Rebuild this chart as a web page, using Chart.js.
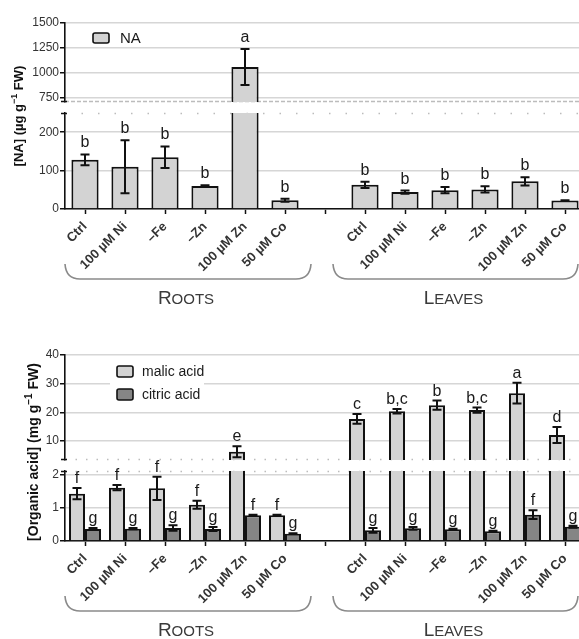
<!DOCTYPE html>
<html><head><meta charset="utf-8">
<script src="https://cdn.jsdelivr.net/npm/chart.js@4.4.1/dist/chart.umd.min.js"></script>
<style>
html,body{margin:0;padding:0;overflow:hidden;background:#fff;width:579px;height:639px;}
canvas{position:absolute;left:0;}
#c1{top:0;} #c2{top:320px;}
</style></head><body>
<canvas id="c1" width="600" height="320"></canvas>
<canvas id="c2" width="600" height="319"></canvas>
<script>
// ---------- data ----------
const treatments = ['Ctrl', '100 µM Ni', '–Fe', '–Zn', '100 µM Zn', '50 µM Co'];
const organs = ['Roots', 'Leaves'];

// Panel 1: nicotianamine (µg/g FW)
const naRoots = [128, 110, 135, 60, 1060, 23];
const naRootsErr = [14, 69, 28, 2, 180, 4];
const naLeaves = [63, 44, 49, 51, 72, 22];
const naLeavesErr = [8, 4, 8, 8, 11, 1];
const naLettersRoots = ['b', 'b', 'b', 'b', 'a', 'b'];
const naLettersLeaves = ['b', 'b', 'b', 'b', 'b', 'b'];
const naLowRange = [0, 250];
const naHighRange = [710, 1500];
const naLowTicks = [0, 100, 200];
const naHighTicks = [750, 1000, 1250, 1500];

// Panel 2: organic acids (mg/g FW)
const malicRoots = [1.42, 1.60, 1.58, 1.09, 6.3, 0.77];
const malicRootsErr = [0.17, 0.08, 0.35, 0.12, 1.9, 0.02];
const citricRoots = [0.36, 0.37, 0.39, 0.36, 0.77, 0.22];
const citricRootsErr = [0.03, 0.02, 0.08, 0.06, 0.02, 0.01];
const malicLeaves = [17.7, 20.4, 22.5, 20.8, 26.7, 12.1];
const malicLeavesErr = [1.7, 0.8, 1.6, 0.9, 3.6, 2.8];
const citricLeaves = [0.32, 0.38, 0.35, 0.29, 0.79, 0.43];
const citricLeavesErr = [0.07, 0.04, 0.02, 0.02, 0.13, 0.03];
const malicLettersRoots = ['f', 'f', 'f', 'f', 'e', 'f'];
const citricLettersRoots = ['g', 'g', 'g', 'g', 'f', 'g'];
const malicLettersLeaves = ['c', 'b,c', 'b', 'b,c', 'a', 'd'];
const citricLettersLeaves = ['g', 'g', 'g', 'g', 'f', 'g'];
const oaLowRange = [0, 2.1];
const oaHighRange = [3.4, 40];
const oaLowTicks = [0, 1, 2];
const oaHighTicks = [10, 20, 30, 40];

// ---------- helpers ----------
const FONT = "'Liberation Sans', Arial, sans-serif";
const xLabels = [...treatments, '', ...treatments];
const join = (a, b) => [...a, null, ...b];
const lowPart = (vals, max) => vals.map(v => v == null ? null : Math.min(v, max));
const highPart = (vals, min) => vals.map(v => (v != null && v > min) ? [min, v] : null);
const cutBorder = (vals, max) => (c) => {
  const v = vals[c.dataIndex];
  return (v != null && v > max) ? {top: 0, left: 2, right: 2, bottom: 0} : 2;
};
const LIGHT = '#d3d3d3', DARK = '#858585', EDGE = '#111';

function yScale(range, tickVals, weight, stackWeight, show) {
  return {
    type: 'linear', axis: 'y', position: 'left', stack: 'v', stackWeight, weight,
    min: range[0], max: range[1], stacked: false,
    border: {display: show, color: EDGE, width: 1.6},
    grid: {display: show, color: '#d6d6d6', lineWidth: 1.5, drawTicks: true, tickLength: 5, tickColor: EDGE, tickWidth: 1.5},
    ticks: {display: show, padding: 1, font: {family: FONT, size: 12}, color: '#333',
            callback: (v) => String(v)},
    afterBuildTicks(s) { s.ticks = tickVals.map(v => ({value: v})); },
    afterFit(s) { s.width = 65; }
  };
}
function xScale(h) {
  return {
    type: 'category', labels: xLabels, offset: true,
    grid: {display: true, drawOnChartArea: false, drawTicks: true, tickLength: 5, tickColor: EDGE, tickWidth: 1.5, offset: false},
    border: {display: true, color: EDGE, width: 1.6},
    ticks: {autoSkip: false, maxRotation: 45, minRotation: 45, padding: 5,
            font: {family: FONT, size: 13, weight: 'bold'}, color: '#333'},
    afterFit(s) { s.height = h; }
  };
}

function drawRotTitle(ctx, cx, cy, parts, size) {
  ctx.save();
  ctx.translate(cx, cy); ctx.rotate(-Math.PI / 2);
  ctx.fillStyle = '#111'; ctx.textBaseline = 'alphabetic'; ctx.textAlign = 'left';
  const fMain = `bold ${size}px ${FONT}`, fSup = `bold ${Math.round(size * 0.68)}px ${FONT}`;
  let total = 0;
  const ws = parts.map(p => { ctx.font = p.sup ? fSup : fMain; const w = ctx.measureText(p.t).width; total += w; return w; });
  let x = -total / 2; const base = size * 0.36;
  parts.forEach((p, i) => { ctx.font = p.sup ? fSup : fMain; ctx.fillText(p.t, x, p.sup ? base - size * 0.42 : base); x += ws[i]; });
  ctx.restore();
}
function drawSmallCaps(ctx, cx, base, word, big, small) {
  const first = word[0].toUpperCase(), rest = word.slice(1).toUpperCase();
  ctx.font = `${big}px ${FONT}`; const w1 = ctx.measureText(first).width;
  ctx.font = `${small}px ${FONT}`; const w2 = ctx.measureText(rest).width;
  const x = cx - (w1 + w2) / 2;
  ctx.textAlign = 'left'; ctx.textBaseline = 'alphabetic'; ctx.fillStyle = '#3a3a3a';
  ctx.font = `${big}px ${FONT}`; ctx.fillText(first, x, base);
  ctx.font = `${small}px ${FONT}`; ctx.fillText(rest, x + w1, base);
}
function drawBracket(ctx, x1, x2, yTop, yLine) {
  ctx.save();
  ctx.strokeStyle = '#8a8a8a'; ctx.lineWidth = 1.6;
  ctx.beginPath();
  ctx.moveTo(x1, yTop);
  ctx.quadraticCurveTo(x1 + 1, yLine, x1 + 15, yLine);
  ctx.lineTo(x2 - 15, yLine);
  ctx.quadraticCurveTo(x2 - 1, yLine, x2, yTop);
  ctx.stroke();
  ctx.restore();
}

function makeOverlay(spec) {
  return {
    id: 'overlay',
    beforeDatasetsDraw(chart) {
      const ctx = chart.ctx, a = chart.chartArea;
      const hi = chart.scales.yHigh, lo = chart.scales.yLow;
      ctx.save();
      ctx.strokeStyle = '#bcbcbc'; ctx.lineWidth = 1.3;
      ctx.setLineDash(spec.dashTop);
      ctx.beginPath(); ctx.moveTo(a.left, hi.bottom - 0.5); ctx.lineTo(a.right, hi.bottom - 0.5); ctx.stroke();
      ctx.setLineDash(spec.dashBottom);
      ctx.beginPath(); ctx.moveTo(a.left, lo.top + 0.5); ctx.lineTo(a.right, lo.top + 0.5); ctx.stroke();
      ctx.restore();
      ctx.save(); ctx.strokeStyle = EDGE; ctx.lineWidth = 1.5;
      ctx.beginPath();
      ctx.moveTo(a.left - 4, lo.top + 0.5); ctx.lineTo(a.left + 2, lo.top + 0.5);
      ctx.moveTo(a.left - 4, hi.bottom - 0.5); ctx.lineTo(a.left + 2, hi.bottom - 0.5);
      ctx.stroke(); ctx.restore();
    },
    afterDatasetsDraw(chart) {
      const ctx = chart.ctx;
      const hi = chart.scales.yHigh, lo = chart.scales.yLow;
      ctx.save();
      spec.series.forEach(s => {
        const meta = chart.getDatasetMeta(s.ds);
        s.values.forEach((v, j) => {
          if (v == null) return;
          const e = s.errs[j];
          const ax = v > s.lowMax ? hi : lo;
          const x = meta.data[j].x;
          const yT = ax.getPixelForValue(v + e), yB = ax.getPixelForValue(v - e);
          ctx.strokeStyle = EDGE; ctx.lineWidth = 2;
          ctx.beginPath();
          ctx.moveTo(x, yT); ctx.lineTo(x, yB);
          ctx.moveTo(x - 4.5, yT); ctx.lineTo(x + 4.5, yT);
          ctx.moveTo(x - 4.5, yB); ctx.lineTo(x + 4.5, yB);
          ctx.stroke();
          ctx.fillStyle = '#1a1a1a';
          ctx.font = `16px ${FONT}`; ctx.textAlign = 'center'; ctx.textBaseline = 'alphabetic';
          ctx.fillText(s.letters[j], x, Math.min(yT, ax.getPixelForValue(v)) - spec.letterGap);
        });
      });
      ctx.restore();
    },
    afterDraw(chart) {
      const ctx = chart.ctx, a = chart.chartArea, xs = chart.scales.x;
      ctx.save();
      const L = spec.legend;
      if (L.bg) { ctx.fillStyle = '#fff'; ctx.fillRect(L.bg[0], L.bg[1], L.bg[2], L.bg[3]); }
      L.items.forEach((it, i) => {
        const y = L.y + i * L.rowH;
        ctx.fillStyle = it.color; ctx.strokeStyle = EDGE; ctx.lineWidth = 1.6;
        ctx.beginPath(); ctx.roundRect(L.x, y, L.bw, L.bh, 2); ctx.fill(); ctx.stroke();
        ctx.fillStyle = '#1a1a1a'; ctx.font = `${L.font}px ${FONT}`;
        ctx.textAlign = 'left'; ctx.textBaseline = 'middle';
        ctx.fillText(it.label, L.x + L.bw + L.tx, y + L.bh / 2 + 0.5);
      });
      drawRotTitle(ctx, spec.title.cx, spec.title.cy, spec.title.parts, spec.title.size);
      const yTop = a.bottom + 55, yLine = a.bottom + 70, base = a.bottom + 95;
      const groups = [
        [xs.getPixelForValue(0) - 20, xs.getPixelForValue(5) + 26],
        [xs.getPixelForValue(7) - 32, xs.getPixelForValue(12) + 13]
      ];
      groups.forEach((g, i) => {
        drawBracket(ctx, g[0], g[1], yTop, yLine);
        drawSmallCaps(ctx, (g[0] + g[1]) / 2 - 2, base, organs[i], 19, 15);
      });
      ctx.restore();
    }
  };
}

const common = {
  responsive: false, animation: false, devicePixelRatio: 1, events: [],
  plugins: {legend: {display: false}, tooltip: {enabled: false}}
};

// ---------- chart 1: NA ----------
const naAll = join(naRoots, naLeaves);
const naErrAll = join(naRootsErr, naLeavesErr);
const naLetAll = join(naLettersRoots, naLettersLeaves);
const barA = {backgroundColor: LIGHT, borderColor: EDGE, stack: 'na', barPercentage: 0.85, categoryPercentage: 0.8};
new Chart(document.getElementById('c1'), {
  type: 'bar',
  data: {
    labels: xLabels,
    datasets: [
      Object.assign({label: 'NA', data: lowPart(naAll, naLowRange[1]), yAxisID: 'yLow',
        borderWidth: cutBorder(naAll, naLowRange[1])}, barA),
      Object.assign({label: 'NA', data: highPart(naAll, naHighRange[0]), yAxisID: 'yHigh', borderWidth: 2}, barA)
    ]
  },
  options: Object.assign({}, common, {
    layout: {padding: {top: 23, right: 15, left: 0, bottom: 0}},
    scales: {
      x: xScale(111),
      yLow: yScale(naLowRange, naLowTicks, 1, 96, true),
      yGap: yScale([0, 1], [], 2, 11, false),
      yHigh: yScale(naHighRange, naHighTicks, 3, 79, true)
    }
  }),
  plugins: [makeOverlay({
    dashTop: [4, 2], dashBottom: [1.5, 15], letterGap: 7,
    series: [{ds: 0, values: naAll, errs: naErrAll, letters: naLetAll, lowMax: naLowRange[1]}],
    legend: {x: 93, y: 33, rowH: 22, bw: 16, bh: 10, tx: 11, font: 15, items: [{label: 'NA', color: LIGHT}]},
    title: {cx: 18, cy: 116, size: 13, parts: [{t: '[NA] (µg g'}, {t: '−1', sup: true}, {t: ' FW)'}]}
  })]
});

// ---------- chart 2: organic acids ----------
const malicAll = join(malicRoots, malicLeaves), malicErrAll = join(malicRootsErr, malicLeavesErr);
const citricAll = join(citricRoots, citricLeaves), citricErrAll = join(citricRootsErr, citricLeavesErr);
const barB = {borderColor: EDGE, barPercentage: 1.0, categoryPercentage: 0.8};
new Chart(document.getElementById('c2'), {
  type: 'bar',
  data: {
    labels: xLabels,
    datasets: [
      Object.assign({label: 'malic acid', data: lowPart(malicAll, oaLowRange[1]), yAxisID: 'yLow', stack: 'malic',
        backgroundColor: LIGHT, borderWidth: cutBorder(malicAll, oaLowRange[1])}, barB),
      Object.assign({label: 'citric acid', data: lowPart(citricAll, oaLowRange[1]), yAxisID: 'yLow', stack: 'citric',
        backgroundColor: DARK, borderWidth: cutBorder(citricAll, oaLowRange[1])}, barB),
      Object.assign({label: 'malic acid', data: highPart(malicAll, oaHighRange[0]), yAxisID: 'yHigh', stack: 'malic',
        backgroundColor: LIGHT, borderWidth: 2}, barB),
      Object.assign({label: 'citric acid', data: highPart(citricAll, oaHighRange[0]), yAxisID: 'yHigh', stack: 'citric',
        backgroundColor: DARK, borderWidth: 2}, barB)
    ]
  },
  options: Object.assign({}, common, {
    layout: {padding: {top: 35, right: 15, left: 0, bottom: 0}},
    scales: {
      x: xScale(98),
      yLow: yScale(oaLowRange, oaLowTicks, 1, 70, true),
      yGap: yScale([0, 1], [], 2, 11, false),
      yHigh: yScale(oaHighRange, oaHighTicks, 3, 105, true)
    }
  }),
  plugins: [makeOverlay({
    dashTop: [1.5, 9], dashBottom: [1.5, 9], letterGap: 5,
    series: [
      {ds: 0, values: malicAll, errs: malicErrAll, letters: join(malicLettersRoots, malicLettersLeaves), lowMax: oaLowRange[1]},
      {ds: 1, values: citricAll, errs: citricErrAll, letters: join(citricLettersRoots, citricLettersLeaves), lowMax: oaLowRange[1]}
    ],
    legend: {x: 117, y: 46, rowH: 23, bw: 16, bh: 11, tx: 9, font: 14, bg: [110, 40, 94, 46],
      items: [{label: 'malic acid', color: LIGHT}, {label: 'citric acid', color: DARK}]},
    title: {cx: 33, cy: 132, size: 14, parts: [{t: '[Organic acid] (mg g'}, {t: '−1', sup: true}, {t: ' FW)'}]}
  })]
});
</script></body></html>
